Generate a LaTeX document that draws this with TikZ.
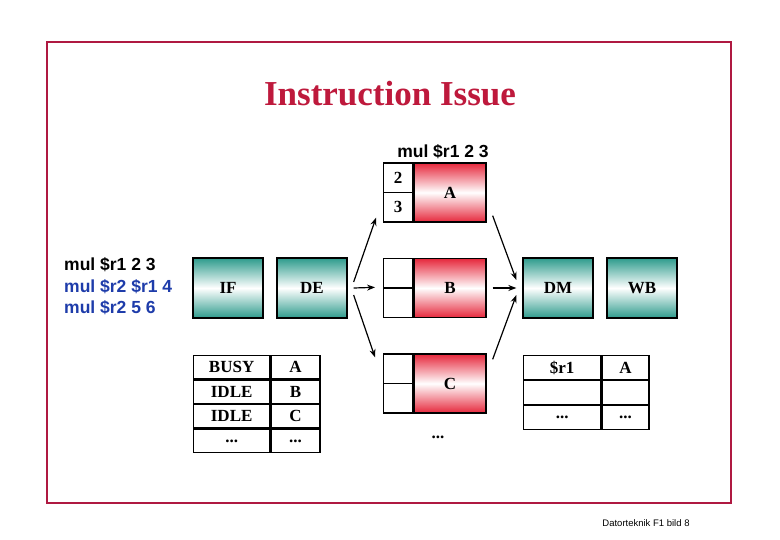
\documentclass[tikz,border=0pt]{standalone}
\usepackage{fontspec}
\setmainfont{Liberation Serif}
\newfontfamily\arialf{Liberation Sans}
\usetikzlibrary{arrows.meta,calc}
\definecolor{framec}{RGB}{175,25,65}
\definecolor{titlec}{RGB}{190,25,60}
\definecolor{tealc}{RGB}{45,155,140}
\definecolor{pinkc}{RGB}{230,40,60}
\definecolor{bluec}{RGB}{30,60,170}
\begin{document}
\begin{tikzpicture}[x=1pt,y=-1pt,
  stagebox/.style={draw, line width=1.3pt, top color=tealc, bottom color=tealc, middle color=white,
    inner sep=0, minimum width=70, minimum height=60, font=\bfseries\fontsize{17}{17}\selectfont},
  bufbox/.style={draw, line width=1.3pt, top color=pinkc, bottom color=pinkc, middle color=white,
    inner sep=0, minimum width=72, minimum height=59, font=\bfseries\fontsize{17}{17}\selectfont},
  cellbox/.style={draw, line width=1.3pt, fill=white, inner sep=0, minimum width=29, minimum height=29.5,
    font=\bfseries\fontsize{17}{17}\selectfont},
  tcell/.style={draw, line width=1.3pt, fill=white, inner sep=0, anchor=north west,
    font=\bfseries\fontsize{17}{17}\selectfont},
  codetext/.style={font=\arialf\bfseries\fontsize{17.5}{19}\selectfont, inner sep=0},
  arr/.style={line width=1.2pt, -{Stealth[length=8pt,width=6pt]}}
]
\useasboundingbox (0,0) rectangle (780,540);
\fill[white] (0,0) rectangle (780,540);
\draw[framec, line width=1.5pt] (47,42) rectangle (731,503);

\node[font=\bfseries\fontsize{35}{35}\selectfont, text=titlec] (title) at (390,94) {Instruction Issue};

% code listing
\node[codetext, anchor=west] (c1) at (64,265) {mul \$r1 2 3};
\node[codetext, anchor=west, text=bluec] (c2) at (64,287) {mul \$r2 \$r1 4};
\node[codetext, anchor=west, text=bluec] (c3) at (64,308) {mul \$r2 5 6};

% stages
\node[stagebox] (IF) at (228,288) {IF};
\node[stagebox] (DE) at (312,288) {DE};
\node[stagebox] (DM) at (558,288) {DM};
\node[stagebox] (WB) at (642,288) {WB};

% reservation buffers
\node[bufbox] (A) at (450,192.5) {A};
\node[cellbox, anchor=north east] (A1) at (A.north west) {2};
\node[cellbox, anchor=south east] (A2) at (A.south west) {3};
\node[codetext] (Alabel) at (443,152) {mul \$r1 2 3};

\node[bufbox] (B) at (450,288) {B};
\node[cellbox, anchor=north east] (B1) at (B.north west) {};
\node[cellbox, anchor=south east] (B2) at (B.south west) {};

\node[bufbox] (C) at (450,383.5) {C};
\node[cellbox, anchor=north east] (C1) at (C.north west) {};
\node[cellbox, anchor=south east] (C2) at (C.south west) {};
\node[font=\bfseries\fontsize{17}{17}\selectfont, inner sep=0] (Cdots) at (438,437) {...};

% arrows
\draw[arr] ($(DE.east)+(6,-6)$) -- ($(A2.south west)+(-7,-5)$);
\draw[arr] ($(DE.east)+(6,0)$) -- ($(B2.north west)+(-8,0)$);
\draw[arr] ($(DE.east)+(6,7)$) -- ($(C1.north west)+(-8,4)$);
\draw[arr] ($(A.south east)+(6,-7)$) -- ($(DM.west)+(-6,-8)$);
\draw[arr] ($(B.east)+(6,0)$) -- ($(DM.west)+(-6,0)$);
\draw[arr] ($(C.north east)+(6,6)$) -- ($(DM.west)+(-6,7)$);

% unit status table
\node[tcell, minimum width=76, minimum height=23.25] (u11) at (193,355) {BUSY};
\node[tcell, minimum width=49, minimum height=23.25] (u12) at (u11.north east) {A};
\node[tcell, minimum width=76, minimum height=23.25] (u21) at (u11.south west) {IDLE};
\node[tcell, minimum width=49, minimum height=23.25] (u22) at (u21.north east) {B};
\node[tcell, minimum width=76, minimum height=23.25] (u31) at (u21.south west) {IDLE};
\node[tcell, minimum width=49, minimum height=23.25] (u32) at (u31.north east) {C};
\node[tcell, minimum width=76, minimum height=23.25] (u41) at (u31.south west) {...};
\node[tcell, minimum width=49, minimum height=23.25] (u42) at (u41.north east) {...};

% register status table
\node[tcell, minimum width=77, minimum height=23.7] (r11) at (523,355) {\$r1};
\node[tcell, minimum width=47, minimum height=23.7] (r12) at (r11.north east) {A};
\node[tcell, minimum width=77, minimum height=23.7] (r21) at (r11.south west) {};
\node[tcell, minimum width=47, minimum height=23.7] (r22) at (r21.north east) {};
\node[tcell, minimum width=77, minimum height=23.7] (r31) at (r21.south west) {...};
\node[tcell, minimum width=47, minimum height=23.7] (r32) at (r31.north east) {...};

\node[font=\arialf\fontsize{9.5}{10}\selectfont, inner sep=0] (foot) at (646,523) {Datorteknik F1 bild 8};
\end{tikzpicture}
\end{document}
